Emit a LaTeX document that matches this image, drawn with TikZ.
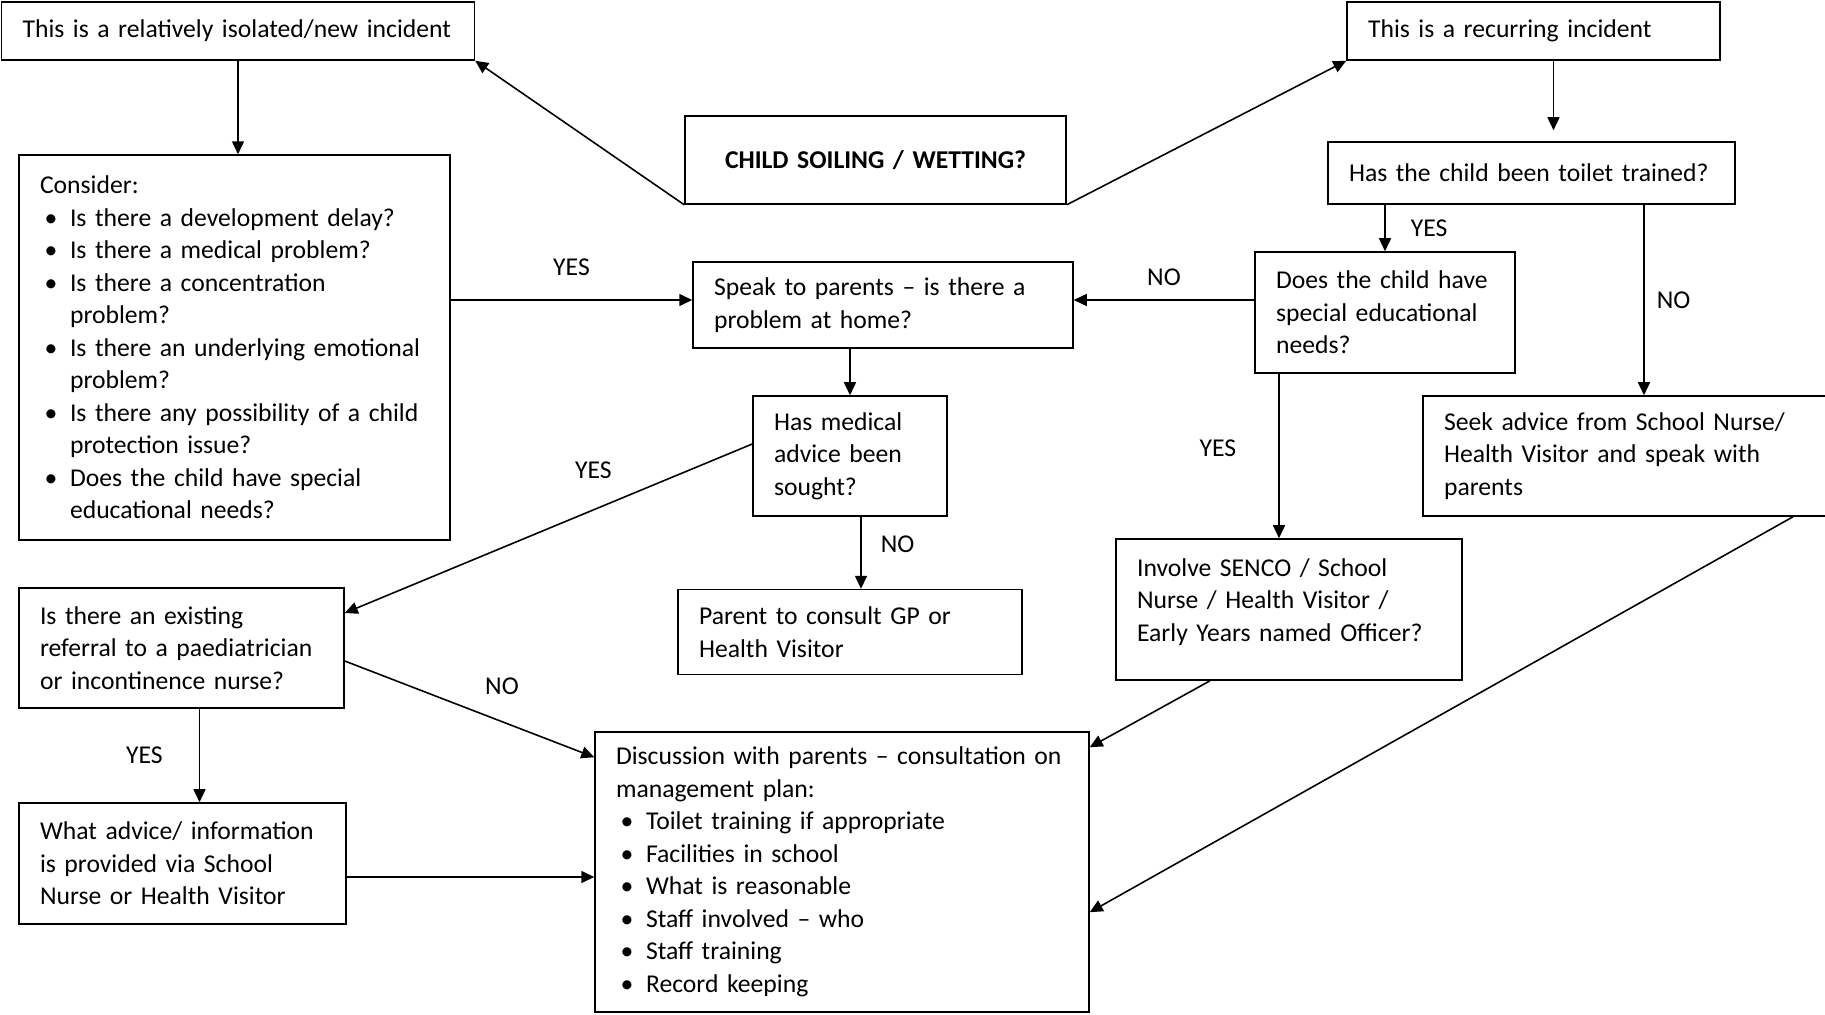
\documentclass[tikz,border=0pt]{standalone}
\usepackage{fontspec}
\setmainfont{Carlito}
\usetikzlibrary{arrows.meta, positioning}
\hyphenpenalty=10000
\exhyphenpenalty=10000
\tikzset{
    flowchart/.style={>={Triangle[length=0.26cm, width=0.24cm]}, line width=0.9pt, font=\fontsize{14.6}{18.5}\selectfont, x=0.02cm, y=-0.02cm},
    box/.style={draw, align=left, inner xsep=0.42cm, inner ysep=0pt},
    ans/.style={inner sep=0pt},
}
% bullet and hanging indent inside the boxes
\newcommand{\bul}{\makebox[0.6cm][l]{\hspace{0.09cm}\textbullet}}
\newcommand{\bgap}{\hspace*{0.6cm}}

\begin{document}
\begin{tikzpicture}[flowchart]
    \useasboundingbox (0,0) rectangle (1825,1014);

    \node[box, text width=8.62cm, minimum height=1.16cm] (iso) at (238,31) {This is a relatively isolated/new incident};
    \node[box, text width=6.62cm, minimum height=1.16cm] (rec) at (1533.5,31) {This is a recurring incident};
    \node[box, align=center, text width=6.78cm, minimum height=1.76cm] (child) at (875.5,160) {\textbf{CHILD SOILING / WETTING?}};
    \node[box, text width=7.78cm, minimum height=7.70cm] (consider) at (234.5,347.5) {Consider:\\
        \bul Is there a development delay?\\
        \bul Is there a medical problem?\\
        \bul Is there a concentration\\
        \bgap problem?\\
        \bul Is there an underlying emotional\\
        \bgap problem?\\
        \bul Is there any possibility of a child\\
        \bgap protection issue?\\
        \bul Does the child have special\\
        \bgap educational needs?};
    \node[box, text width=7.30cm, minimum height=1.24cm] (toilet) at (1531.5,173) {Has the child been toilet trained?};
    \node[box, text width=6.76cm, minimum height=1.72cm] (speak) at (883,305) {Speak to parents -- is there a\\problem at home?};
    \node[box, text width=4.36cm, minimum height=2.42cm] (sen) at (1385,312.5) {Does the child have\\special educational\\needs?};
    \node[box, text width=3.04cm, minimum height=2.40cm] (medical) at (850,456) {Has medical\\advice been\\sought?};
    \node[box, text width=7.76cm, minimum height=2.40cm] (seek) at (1638,456) {Seek advice from School Nurse/\\Health Visitor and speak with\\parents};
    \node[box, text width=6.04cm, minimum height=1.70cm, below=1.44cm of medical] (parent) {Parent to consult GP or\\Health Visitor};
    \node[box, text width=6.08cm, minimum height=2.82cm, text depth=1.68cm] (senco) at (1289,609.5) {Involve SENCO / School\\Nurse / Health Visitor /\\Early Years named Officer?};
    \node[box, text width=5.66cm, minimum height=2.40cm] (existing) at (181.5,648) {Is there an existing\\referral to a paediatrician\\or incontinence nurse?};
    \node[box, text width=9.04cm, minimum height=5.60cm] (discussion) at (842,872) {Discussion with parents -- consultation on\\management plan:\\
        \bul Toilet training if appropriate\\
        \bul Facilities in school\\
        \bul What is reasonable\\
        \bul Staff involved -- who\\
        \bul Staff training\\
        \bul Record keeping};
    \node[box, text width=5.70cm, minimum height=2.42cm] (what) at (182.5,863.5) {What advice/ information\\is provided via School\\Nurse or Health Visitor};

    \coordinate (recB) at ([xshift=0.4cm]rec.south);
    \coordinate (toiletB) at ([xshift=2.25cm]toilet.south);
    \coordinate (speakL) at ([yshift=0.1cm]speak.west);
    \coordinate (speakR) at ([yshift=0.1cm]speak.east);
    \coordinate (sencoT) at ([xshift=-0.2cm]senco.north);
    \coordinate (existB) at ([xshift=0.36cm]existing.south);
    \coordinate (whatR) at ([yshift=-0.27cm]what.east);

    \draw[->] (child.south west) -- (iso.south east);
    \draw[->] (child.south east) -- (rec.south west);
    \draw[->] (iso.south) -- (iso.south |- consider.north);
    \draw[->, shorten >=0.22cm] (recB) -- (recB |- toilet.north);

    \draw[->] (sen.north |- toilet.south) -- node[ans, right=0.5cm] {YES} (sen.north);
    \draw[->] (toiletB) -- node[ans, right=0.24cm] {NO} (toiletB |- seek.north);
    \draw[->] (speakR -| sen.west) -- node[ans, above=0.27cm] {NO} (speakR);
    \draw[->] (speakL -| consider.east) -- node[ans, above=0.47cm] {YES} (speakL);
    \draw[->] (medical.north |- speak.south) -- (medical.north);
    \draw[->] ([yshift=0.24cm]medical.west) -- node[ans, pos=0.39, above=0.6cm] {YES} ([yshift=0.7cm]existing.east);
    \draw[->] ([xshift=0.22cm]medical.south) -- node[ans, pos=0.375, right=0.38cm] {NO} ([xshift=0.22cm]parent.north);
    \draw[->] (sencoT |- sen.south) -- node[ans, pos=0.45, left=0.84cm] {YES} (sencoT);

    \draw[->] ([yshift=-0.26cm]existing.east) -- node[ans, pos=0.63, above=0.52cm] {NO} ([yshift=-0.52cm]discussion.north west);
    \draw[->] (existB) -- node[ans, left=0.72cm] {YES} (existB |- what.north);
    \draw[->] (whatR) -- (whatR -| discussion.west);
    \draw[->] ([xshift=-1.58cm]senco.south) -- ([yshift=-0.32cm]discussion.north east);
    \draw[->] ([xshift=3.1cm]seek.south) -- ([yshift=-3.62cm]discussion.north east);
\end{tikzpicture}
\end{document}
